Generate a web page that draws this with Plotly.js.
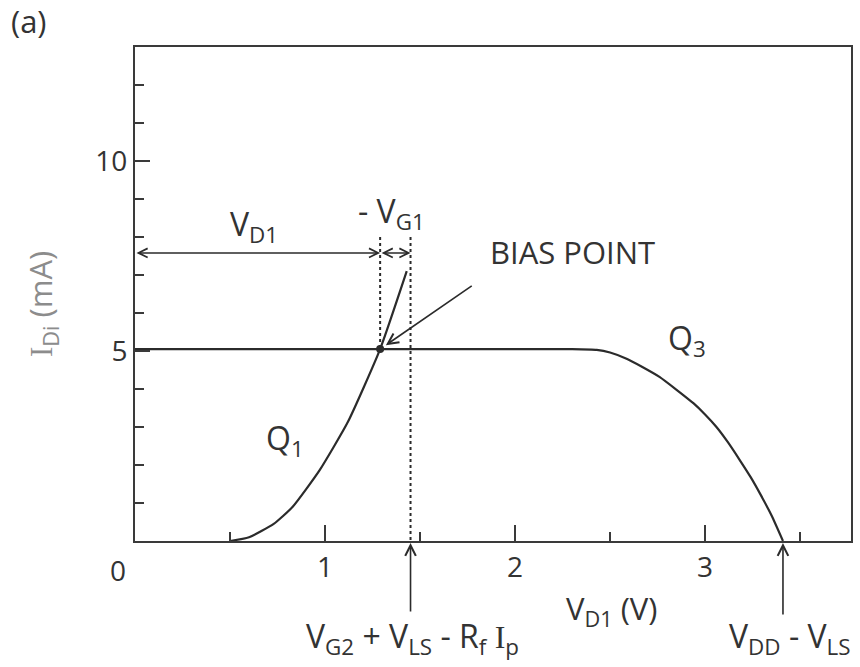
<!DOCTYPE html>
<html>
<head>
<meta charset="utf-8">
<script src="https://cdn.plot.ly/plotly-3.0.1.min.js"></script>
<style>
  html, body { margin: 0; padding: 0; background: #fff; }
  #chart { width: 860px; height: 667px; }
</style>
</head>
<body>
<div id="chart"></div>
<script>
// Drain current of Q1 versus V_D1 (input transistor characteristic)
const vQ1 = [0.5, 0.6, 0.73, 0.83, 0.97, 1.12, 1.29, 1.43];
const iQ1 = [0, 0.1, 0.45, 0.9, 1.85, 3.13, 5.05, 7.1];

// Load line set by the current source Q3
const vQ3 = [0, 0.5, 1.0, 1.5, 2.0, 2.3, 2.43, 2.5, 2.59, 2.67, 2.76, 2.85, 2.94, 3.0, 3.06, 3.12, 3.18, 3.24, 3.29, 3.35, 3.41];
const iQ3 = [5.05, 5.05, 5.05, 5.05, 5.05, 5.05, 5.03, 4.96, 4.79, 4.58, 4.32, 3.98, 3.62, 3.33, 3.0, 2.6, 2.15, 1.68, 1.24, 0.67, 0];

// Operating point and construction levels
const biasV = 1.29;
const biasI = 5.05;
const vLimitLow = 1.45;                   // V_G2 + V_LS - R_f I_p
const vLimitHigh = vQ3[vQ3.length - 1];   // V_DD - V_LS
const spanLevel = 7.58;                   // height of the V_D1 / -V_G1 dimension arrows
const dottedTop = 8.0;

// Tick labels
const xTickVals = [1, 2, 3];
const xTickText = ['1', '2', '3'];
const yTickVals = [5, 10];
const yTickText = ['5', '10'];
const originLabel = '0';

const W = 860, H = 667;
const M = { l: 135, r: 9, t: 47, b: 126 };
const px = x => (x - M.l) / (W - M.l - M.r);
const py = y => (H - M.b - y) / (H - M.t - M.b);

const ink = '#2b2b2b';
const textInk = '#333333';
const FONT = 'Open Sans, Noto Sans, DejaVu Sans, sans-serif';
const serifI = '<span style="font-family:Liberation Serif, DejaVu Serif, serif">I</span>';

const traces = [
  { x: vQ3, y: iQ3, mode: 'lines', line: { color: ink, width: 2.2, shape: 'spline', smoothing: 0.5 }, hoverinfo: 'skip' },
  { x: vQ1, y: iQ1, mode: 'lines', line: { color: ink, width: 2.2, shape: 'spline', smoothing: 0.5 }, hoverinfo: 'skip' },
  { x: [biasV, biasV], y: [dottedTop, biasI], mode: 'lines', line: { color: ink, width: 2, dash: 'dot' }, hoverinfo: 'skip' },
  { x: [vLimitLow, vLimitLow], y: [dottedTop, 0], mode: 'lines', line: { color: ink, width: 2, dash: 'dot' }, hoverinfo: 'skip' },
  { x: [biasV], y: [biasI], mode: 'markers', marker: { color: ink, size: 8 }, hoverinfo: 'skip' }
];

const txt = (text, x, y, size, extra) => Object.assign({
  text: text, x: x, y: y, xref: 'paper', yref: 'paper', showarrow: false,
  xanchor: 'center', yanchor: 'middle',
  font: { family: FONT, size: size, color: textInk }
}, extra || {});

const annotations = [
  txt('(a)', px(29), py(21), 31),
  txt(originLabel, px(118), py(570), 28),
  txt('V<sub>D1</sub> (V)', px(611), py(610), 31),
  txt('V<sub>G2</sub> + V<sub>LS</sub> - R<sub>f</sub> ' + serifI + '<sub>p</sub>', px(412), py(638), 32),
  txt('V<sub>DD</sub> - V<sub>LS</sub>', px(790), py(638), 32),
  txt(serifI + '<sub>Di</sub> (mA)', px(42), py(304), 31, { textangle: -90, font: { family: FONT, size: 31, color: '#8c8c8c' } }),
  txt('V<sub>D1</sub>', px(254), py(226), 32),
  txt('- V<sub>G1</sub>', px(391), py(213), 32),
  txt('BIAS POINT', px(572), py(252), 31),
  txt('Q<sub>1</sub>', px(285), py(440), 32),
  txt('Q<sub>3</sub>', px(687), py(340), 32),
  // pointer to the bias point
  { x: biasV, y: biasI, xref: 'x', yref: 'y', ax: 1.78, ay: 6.74, axref: 'x', ayref: 'y',
    text: '', showarrow: true, arrowhead: 5, arrowsize: 1.3, arrowwidth: 1.6, arrowcolor: ink, standoff: 7 },
  // V_D1 span
  { x: biasV, y: spanLevel, xref: 'x', yref: 'y', ax: 0, ay: spanLevel, axref: 'x', ayref: 'y',
    text: '', showarrow: true, arrowside: 'end+start', arrowhead: 5, startarrowhead: 5,
    arrowsize: 1.2, startarrowsize: 1.2, arrowwidth: 1.5, arrowcolor: ink },
  // -V_G1 span
  { x: vLimitLow, y: spanLevel, xref: 'x', yref: 'y', ax: biasV, ay: spanLevel, axref: 'x', ayref: 'y',
    text: '', showarrow: true, arrowside: 'end+start', arrowhead: 5, startarrowhead: 5,
    arrowsize: 1.2, startarrowsize: 1.2, arrowwidth: 1.5, arrowcolor: ink },
  // markers under the axis
  { x: vLimitLow, y: 0, xref: 'x', yref: 'y', ax: 0, ay: 72, text: '', showarrow: true,
    arrowhead: 5, arrowsize: 1.3, arrowwidth: 1.6, arrowcolor: ink, standoff: 2 },
  { x: vLimitHigh, y: 0, xref: 'x', yref: 'y', ax: 0, ay: 75, text: '', showarrow: true,
    arrowhead: 5, arrowsize: 1.3, arrowwidth: 1.6, arrowcolor: ink, standoff: 2 }
];

const layout = {
  width: W, height: H,
  margin: M,
  paper_bgcolor: '#ffffff', plot_bgcolor: '#ffffff',
  showlegend: false,
  font: { family: FONT, color: textInk },
  xaxis: {
    range: [0, 3.768], showgrid: false, zeroline: false,
    showline: true, mirror: true, linecolor: '#3a3a3a', linewidth: 2,
    ticks: 'inside', ticklen: 16, tickwidth: 1.6, tickcolor: '#3a3a3a',
    tickmode: 'array', tickvals: xTickVals, ticktext: xTickText,
    tickfont: { family: FONT, size: 28, color: textInk },
    minor: { dtick: 0.5, tick0: 0, ticks: 'inside', ticklen: 9, tickwidth: 1.6, tickcolor: '#3a3a3a' },
    fixedrange: true
  },
  yaxis: {
    range: [0, 13], showgrid: false, zeroline: false,
    showline: true, mirror: true, linecolor: '#3a3a3a', linewidth: 2,
    ticks: 'inside', ticklen: 15, tickwidth: 1.6, tickcolor: '#3a3a3a',
    tickmode: 'array', tickvals: yTickVals, ticktext: yTickText,
    tickfont: { family: FONT, size: 28, color: textInk },
    minor: { dtick: 1, tick0: 0, ticks: 'inside', ticklen: 9, tickwidth: 1.6, tickcolor: '#3a3a3a' },
    fixedrange: true
  },
  annotations: annotations
};

Plotly.newPlot('chart', traces, layout, { staticPlot: true, displayModeBar: false });
</script>
</body>
</html>
